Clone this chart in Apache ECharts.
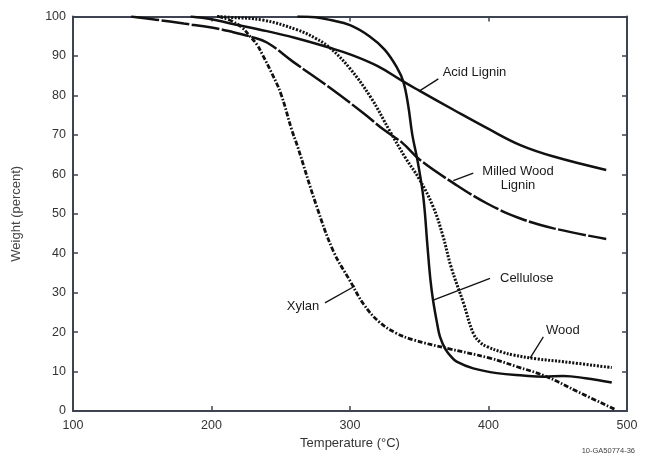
<!DOCTYPE html>
<html><head><meta charset="utf-8">
<script src="https://cdn.jsdelivr.net/npm/echarts@6/dist/echarts.min.js"></script>
<style>html,body{margin:0;padding:0;background:#fff}#c{width:647px;height:456px}</style>
</head><body><div id="c"></div>
<script>
// ---- data (Temperature °C, Weight %) ----
const xTickValues = [100, 200, 300, 400, 500];
const yTickValues = [0, 10, 20, 30, 40, 50, 60, 70, 80, 90, 100];

const acidLignin = [[185,100],[200,99.3],[213,98.3],[240,96.3],[260,94.6],[286,92],[300,90.4],[320,87.4],[338,83.6],[350,81.2],[375,76.3],[399,71.7],[423,67.4],[447,64.5],[485,61.1]];
const milledWoodLignin = [[142,100],[160,99.2],[180,98.2],[200,97.2],[215,96.1],[228,94.9],[240,93.4],[259,88.5],[286,81.8],[310,75.4],[324,71.4],[338,67.9],[350,63.8],[375,57.7],[399,52.6],[423,48.8],[447,46.3],[485,43.6]];
const cellulose = [[262,100],[275,99.8],[286,99.1],[300,97.8],[314,95],[325,91.6],[334,87],[338.5,83.5],[342,77.5],[345,70],[349,63],[353,54],[356,41.5],[358,33.5],[360,28],[363,22],[365,18.8],[369,15.6],[373,13.8],[377,12.5],[389,10.8],[406,9.6],[425,9],[440,8.7],[454,8.9],[470,8.3],[489,7.2]];
const wood = [[204,100],[213,99.8],[237,99.1],[262,96.6],[275,94.5],[286,91.9],[300,86.8],[315,79.5],[329,70.8],[340,64.2],[350,58.8],[360,51.8],[367,44.5],[373,36.5],[382,27.3],[389,19.7],[394,17.4],[399,16.3],[410,14.9],[418,14.2],[435,13.2],[454,12.5],[489,11]];
const xylan = [[205,100],[215,98.8],[222,97.2],[228,94.9],[233,92.8],[237,90.2],[243,86],[250,80.5],[258,71.2],[262,67.2],[276,51.8],[288,40.5],[300,33],[310,27],[321,22.6],[333,19.8],[346,18],[370,15.9],[401,13.4],[420,11.3],[442,8.7],[465,4.8],[492,0.3]];

// annotation anchors in data coordinates: text point, leader start, leader end
const annotations = [
  {text: 'Acid Lignin', at: [366.9, 85.8], from: [363.8, 84.2], to: [350.5, 81.2], align: 'left'},
  {text: 'Milled Wood\nLignin', at: [421.3, 58.9], from: [389, 60.3], to: [374.6, 58.4], align: 'center'},
  {text: 'Cellulose', at: [408.3, 33.6], from: [401.1, 33.6], to: [360.1, 28.1], align: 'left'},
  {text: 'Wood', at: [441.5, 20.3], from: [439.6, 18.8], to: [430, 13.4], align: 'left'},
  {text: 'Xylan', at: [277.8, 26.6], from: [281.9, 27.4], to: [303.6, 31.7], align: 'right'}
];

const axisColor = '#3d4350';
const lineColor = '#111';
const chart = echarts.init(document.getElementById('c'));

function mkSeries(name, data, type, width) {
  return {
    name, type: 'line', data, showSymbol: false, smooth: 0.4,
    lineStyle: {color: lineColor, width: width || 2.5, type: type, cap: 'butt'},
    silent: true, animation: false
  };
}

const baseX = {
  type: 'value', min: 100, max: 500, interval: 100,
  axisLine: {show: true, onZero: false, lineStyle: {color: axisColor, width: 2}},
  axisTick: {show: true, inside: true, length: 5, lineStyle: {color: axisColor, width: 1.5}},
  splitLine: {show: false}
};
const baseY = {
  type: 'value', min: 0, max: 100, interval: 10,
  axisLine: {show: true, onZero: false, lineStyle: {color: axisColor, width: 2}},
  axisTick: {show: true, inside: true, length: 5, lineStyle: {color: axisColor, width: 1.5}},
  splitLine: {show: false}
};

chart.setOption({
  animation: false,
  backgroundColor: '#fff',
  grid: {left: 73, right: 20, top: 16.5, bottom: 45, containLabel: false},
  xAxis: [
    Object.assign({}, baseX, {
      position: 'bottom',
      axisLabel: {show: true, margin: 8, fontSize: 12.5, color: '#333', fontFamily: 'Liberation Sans',
        customValues: xTickValues},
      name: 'Temperature (°C)', nameLocation: 'middle', nameGap: 20,
      nameTextStyle: {fontSize: 13, color: '#333', fontFamily: 'Liberation Sans'}
    }),
    Object.assign({}, baseX, {position: 'top', axisLabel: {show: false}})
  ],
  yAxis: [
    Object.assign({}, baseY, {
      position: 'left',
      axisLabel: {show: true, margin: 7, fontSize: 12.5, color: '#333', fontFamily: 'Liberation Sans',
        customValues: yTickValues},
      name: 'Weight (percent)', nameLocation: 'middle', nameGap: 50,
      nameTextStyle: {fontSize: 13, color: '#444', fontFamily: 'Liberation Sans'}
    }),
    Object.assign({}, baseY, {position: 'right', axisLabel: {show: false}})
  ],
  series: [
    mkSeries('Acid Lignin', acidLignin, 'solid', 2.5),
    mkSeries('Milled Wood Lignin', milledWoodLignin, [28, 2.5], 2.5),
    mkSeries('Cellulose', cellulose, 'solid', 2.5),
    mkSeries('Wood', wood, [2, 1.5], 3),
    mkSeries('Xylan', xylan, [5, 1.8, 1.6, 1.8], 2.8)
  ]
});

// annotations placed from data coordinates
const g = [];
annotations.forEach(a => {
  const p = chart.convertToPixel({xAxisIndex: 0, yAxisIndex: 0}, a.at);
  const f = chart.convertToPixel({xAxisIndex: 0, yAxisIndex: 0}, a.from);
  const t = chart.convertToPixel({xAxisIndex: 0, yAxisIndex: 0}, a.to);
  g.push({type: 'line', shape: {x1: f[0], y1: f[1], x2: t[0], y2: t[1]},
    style: {stroke: '#111', lineWidth: 1.3}, silent: true, z: 10});
  g.push({type: 'text', x: p[0], y: p[1], silent: true, z: 10,
    style: {text: a.text, fill: '#1a1a1a', fontSize: 13, fontFamily: 'Liberation Sans',
      align: a.align, verticalAlign: 'middle', lineHeight: 14.5}});
});
g.push({type: 'text', right: 12, bottom: 1, silent: true,
  style: {text: '10-GA50774-36', fill: '#444', fontSize: 7.5, fontFamily: 'Liberation Sans'}});
chart.setOption({graphic: g});
</script>
</body></html>
